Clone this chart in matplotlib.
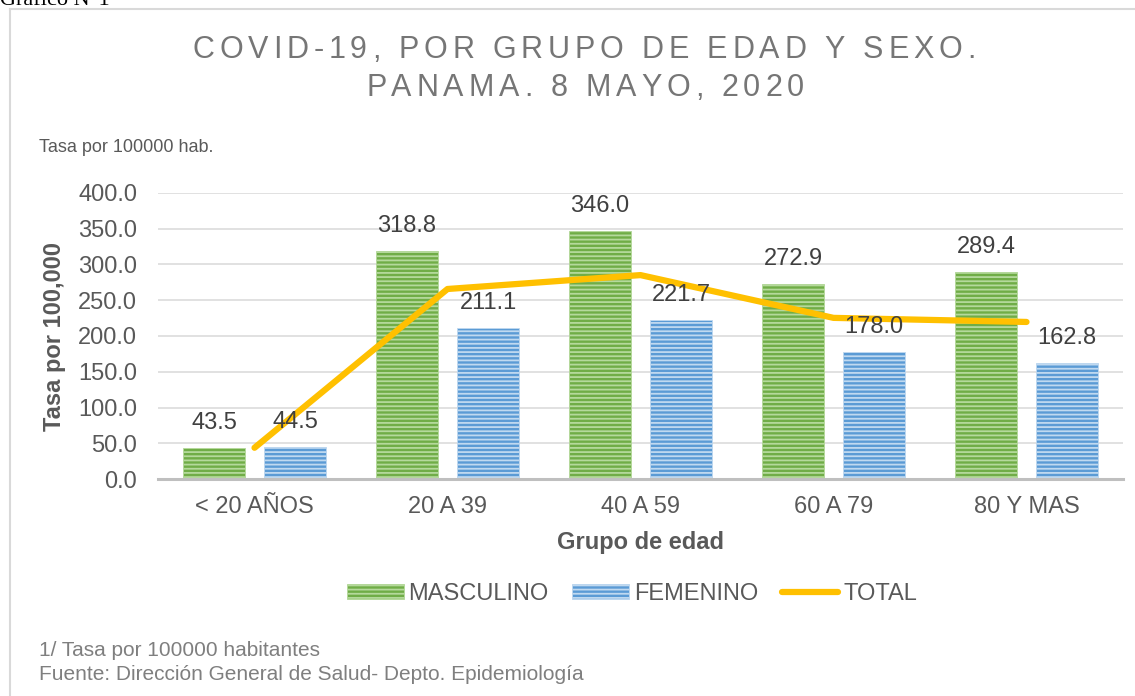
import matplotlib
matplotlib.use("Agg")
import matplotlib.pyplot as plt
from matplotlib.patches import Patch
from matplotlib.lines import Line2D
from matplotlib.font_manager import FontProperties
import numpy as np

# ---------------- data ----------------
categories = ["< 20 AÑOS", "20 A 39", "40 A 59", "60 A 79", "80 Y MAS"]
masculino = [43.5, 318.8, 346.0, 272.9, 289.4]
femenino = [44.5, 211.1, 221.7, 178.0, 162.8]
total = [44.0, 265.6, 285.0, 225.3, 219.6]
yticks = [0, 50, 100, 150, 200, 250, 300, 350, 400]

title_lines = ["COVID-19, POR GRUPO DE EDAD Y SEXO.", "PANAMA. 8 MAYO, 2020"]
subtitle = "Tasa por 100000 hab."
ylabel = "Tasa por 100,000"
xlabel = "Grupo de edad"
legend_labels = ["MASCULINO", "FEMENINO", "TOTAL"]
footnotes = ["1/ Tasa por 100000 habitantes",
             "Fuente: Dirección General de Salud- Depto. Epidemiología"]
header = "Gráfico N°1"

# ---------------- style ----------------
W, H = 1135, 696
plt.rcParams['font.family'] = ['Liberation Sans', 'DejaVu Sans']
plt.rcParams['hatch.linewidth'] = 1.3

GREEN = '#70AD47'
GREEN_L = '#B5D99C'
BLUE = '#5B9BD5'
BLUE_L = '#C0D9F0'
GOLD = '#FFC000'
TXT = '#595959'
LBL = '#404040'
FS = 17

fig = plt.figure(figsize=(W / 100, H / 100), dpi=100)
fig.patch.set_facecolor('white')

def fx(px):
    return px / W

def fy(py):
    return 1 - py / H

ax = fig.add_axes([fx(158), fy(479.3), fx(1123) - fx(158), fy(192.7) - fy(479.3)])

x = np.arange(len(categories))
bw = 0.326
off = 0.21
ax.bar(x - off, masculino, bw, color=GREEN, edgecolor=GREEN_L,
       hatch='----', linewidth=0.6, zorder=2)
ax.bar(x + off, femenino, bw, color=BLUE, edgecolor=BLUE_L,
       hatch='----', linewidth=0.6, zorder=2)
ax.plot(x, total, color=GOLD, lw=4.5, solid_capstyle='round', zorder=3)

for xi, v in zip(x - off, masculino):
    ax.annotate(f"{v:.1f}", (xi, v), xytext=(0, 18), textcoords='offset points',
                ha='center', va='center', fontsize=FS, color=LBL, zorder=5)
for xi, v in zip(x + off, femenino):
    ax.annotate(f"{v:.1f}", (xi, v), xytext=(0, 18), textcoords='offset points',
                ha='center', va='center', fontsize=FS, color=LBL, zorder=5)

ax.set_xlim(-0.5, len(categories) - 0.5)
ax.set_ylim(0, 400)
ax.set_yticks(yticks)
ax.set_yticklabels([f"{t:.1f}" for t in yticks])
ax.set_xticks(x)
ax.set_xticklabels(categories)
ax.tick_params(axis='both', length=0, labelsize=FS, labelcolor=TXT)
ax.tick_params(axis='y', pad=15)
ax.tick_params(axis='x', pad=12)
ax.yaxis.grid(True, color='#D9D9D9', lw=1.1, zorder=0)
ax.set_axisbelow(True)
for s in ['top', 'right', 'left']:
    ax.spines[s].set_visible(False)
ax.spines['bottom'].set_color('#BFBFBF')
ax.spines['bottom'].set_linewidth(2.2)
ax.spines['bottom'].set_zorder(4)

# axis labels
fig.text(fx(55), fy(336), ylabel, rotation=90, ha='center', va='center',
         fontsize=17, fontweight='bold', color=TXT)
fig.text(fx(640), fy(543), xlabel, ha='center', va='center',
         fontsize=17, fontweight='bold', color=TXT)

# title with letter spacing
tfp = FontProperties(family=['Liberation Sans', 'DejaVu Sans'], size=22)
r = fig.canvas.get_renderer()

def tw(t):
    return r.get_text_width_height_descent(t, tfp, ismath=False)[0]

base = tw('XX')

def advances(s):
    return [tw('X' + c + 'X') - base for c in s]

adv1 = advances(title_lines[0])
spacing = (783 - sum(adv1)) / (len(title_lines[0]) - 1)

def draw_spaced(s, xc, yb):
    advs = advances(s)
    totw = sum(advs) + spacing * (len(s) - 1)
    xp = xc - totw / 2
    for c, a in zip(s, advs):
        if c != ' ':
            fig.text(fx(xp), fy(yb), c, fontproperties=tfp, color='#767676',
                     ha='left', va='baseline')
        xp += a + spacing

draw_spaced(title_lines[0], 584, 58)
draw_spaced(title_lines[1], 585, 96)

fig.text(fx(39), fy(148), subtitle, ha='left', va='center', fontsize=13, color=TXT)
fig.text(fx(39), fy(650), footnotes[0], ha='left', va='center', fontsize=15, color='#7F7F7F')
fig.text(fx(39), fy(674), footnotes[1], ha='left', va='center', fontsize=15, color='#7F7F7F')
fig.text(fx(0), fy(5), header, ha='left', va='baseline', fontsize=16,
         family='Liberation Serif', color='black')

# frame
fig.add_artist(Line2D([fx(10), fx(10)], [fy(9), 0], color='#D9D9D9', lw=1.5,
                      transform=fig.transFigure))
fig.add_artist(Line2D([fx(10), 1], [fy(9), fy(9)], color='#D9D9D9', lw=1.5,
                      transform=fig.transFigure))

# legend
handles = [Patch(facecolor=GREEN, edgecolor=GREEN_L, hatch='----', linewidth=0.6),
           Patch(facecolor=BLUE, edgecolor=BLUE_L, hatch='----', linewidth=0.6),
           Line2D([0], [0], color=GOLD, lw=4.5, solid_capstyle='round')]
fig.legend(handles, legend_labels, loc='center', bbox_to_anchor=(fx(632), fy(594)),
           ncol=3, frameon=False, fontsize=FS, handlelength=2.4, handleheight=0.6,
           handletextpad=0.2, columnspacing=1.0, labelcolor=TXT)

fig.savefig('out.png', dpi=100, facecolor='white')
